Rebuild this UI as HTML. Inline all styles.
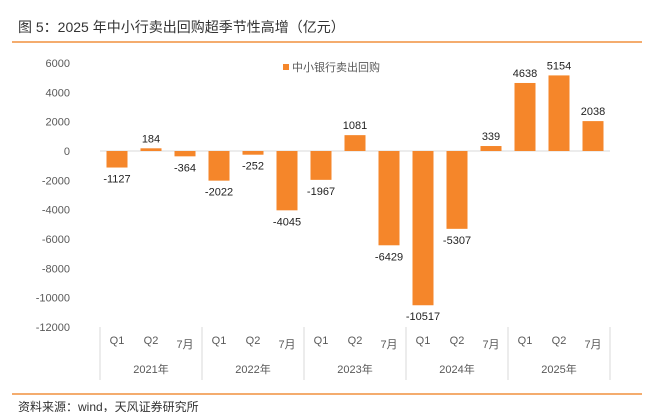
<!DOCTYPE html>
<html><head><meta charset="utf-8"><style>
body{margin:0;background:#fff;width:656px;height:412px;overflow:hidden;font-family:"Liberation Sans","Noto Sans CJK SC",sans-serif}
</style></head><body>
<svg width="656" height="412" style="font-family:'Liberation Sans','Noto Sans CJK SC',sans-serif">
<text x="18" y="32" font-size="14" fill="#333">图 5：2025 年中小行卖出回购超季节性高增（亿元）</text>
<line x1="12" y1="42" x2="642" y2="42" stroke="#F0913F" stroke-width="1.5"/>
<g id="yaxis"></g>
<g id="bars"></g>
<g id="xaxis"></g>
<rect x="283" y="64" width="6" height="6" fill="#F5862A"/>
<text x="292" y="71" font-size="11" fill="#595959">中小银行卖出回购</text>
<line x1="12" y1="394" x2="642" y2="394" stroke="#F0913F" stroke-width="1.5"/>
<text x="18" y="411" font-size="12" fill="#333">资料来源：wind，天风证券研究所</text>
</svg>
<script>
const categories=["Q1","Q2","7月","Q1","Q2","7月","Q1","Q2","7月","Q1","Q2","7月","Q1","Q2","7月"];
const years=["2021年","2022年","2023年","2024年","2025年"];
const values=[-1127,184,-364,-2022,-252,-4045,-1967,1081,-6429,-10517,-5307,339,4638,5154,2038];
const yTicks=[6000,4000,2000,0,-2000,-4000,-6000,-8000,-10000,-12000];
const NS="http://www.w3.org/2000/svg";
const X0=100,X1=610,bw=34,barW=21;
const y=v=>151-v*(176/12000);
const x=i=>X0+bw*i+bw/2;
function mk(t,a,p){const e=document.createElementNS(NS,t);for(const k in a)e.setAttribute(k,a[k]);p.appendChild(e);return e;}
const ya=document.getElementById('yaxis'),bg=document.getElementById('bars'),xa=document.getElementById('xaxis');
yTicks.forEach(v=>{const t=mk('text',{x:70,y:y(v)+4,'font-size':11,fill:'#595959','text-anchor':'end'},ya);t.textContent=v;

});
const zl=mk('line',{x1:X0,x2:X1,y1:y(0),y2:y(0),stroke:'#D9D9D9'},bg);


values.forEach((v,i)=>{
const top=Math.min(y(v),y(0)),h=Math.abs(y(v)-y(0));
const r=mk('rect',{x:x(i)-barW/2,y:top,width:barW,height:h,fill:'#F5862A'},bg);


const ly=v>=0?y(v)-6:y(v)+15;
const t=mk('text',{x:x(i),y:ly,'font-size':11,fill:'#222','text-anchor':'middle'},bg);t.textContent=v;


});
categories.forEach((c,i)=>{const t=mk('text',{x:x(i),y:c==="7月"?348:344,'font-size':11,fill:'#595959','text-anchor':'middle'},xa);t.textContent=c;

});
for(let g=0;g<=years.length;g++){const sx=X0+g*bw*3;const l=mk('line',{x1:sx,x2:sx,y1:327,y2:380,stroke:'#D9D9D9'},xa);

}
years.forEach((yr,g)=>{const t=mk('text',{x:X0+g*bw*3+bw*1.5,y:373,'font-size':11,fill:'#595959','text-anchor':'middle'},xa);t.textContent=yr;

});
</script>
</body></html>
